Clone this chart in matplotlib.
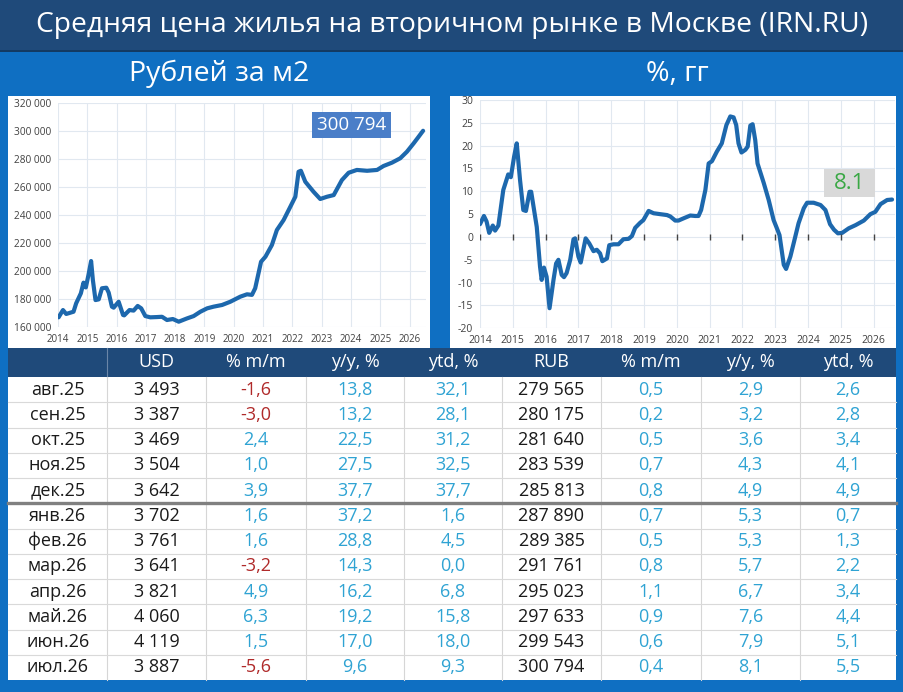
import matplotlib
matplotlib.use('Agg')
import matplotlib.pyplot as plt
from matplotlib.patches import Rectangle

plt.rcParams['font.family'] = ['Open Sans', 'DejaVu Sans']
plt.rcParams['axes.unicode_minus'] = False

# ---------------- texts ----------------
title = 'Средняя цена жилья на вторичном рынке в Москве (IRN.RU)'
sub_left = 'Рублей за м2'
sub_right = '%, гг'

# ---------------- chart data ----------------
price_t = [2014.02, 2014.17, 2014.28, 2014.53, 2014.62, 2014.78, 2014.87, 2014.95,
           2015.04, 2015.13, 2015.19, 2015.28, 2015.39, 2015.50, 2015.65, 2015.73,
           2015.84, 2015.90, 2016.07, 2016.22, 2016.26, 2016.44, 2016.58, 2016.72,
           2016.84, 2016.98, 2017.15, 2017.38, 2017.55, 2017.72, 2017.92, 2018.12,
           2018.40, 2018.63, 2018.86, 2019.09, 2019.31, 2019.60, 2019.88, 2020.22,
           2020.45, 2020.62, 2020.73, 2020.93, 2021.08, 2021.30, 2021.47, 2021.70,
           2021.93, 2022.10, 2022.21, 2022.29, 2022.44, 2022.72, 2022.95, 2023.18,
           2023.41, 2023.69, 2023.92, 2024.20, 2024.55, 2024.89, 2025.11, 2025.40,
           2025.68, 2025.91, 2026.14, 2026.31, 2026.46]
price_v = [167100, 172300, 169500, 171100, 177100, 184200, 191800, 188400,
           197300, 207200, 193700, 179400, 179900, 187800, 188200, 184700,
           174700, 174000, 178200, 168800, 168500, 172300, 171900, 175200,
           173500, 168000, 167100, 167300, 167500, 165200, 165900, 164000,
           166300, 168000, 171100, 173500, 174700, 175900, 178200, 181800,
           183500, 183100, 187800, 206700, 210300, 218600, 229300, 236400,
           245900, 253000, 270800, 271500, 263700, 256600, 251400, 253000,
           254200, 264900, 270100, 272100, 271500, 272100, 274900, 277300,
           280400, 285100, 291100, 295800, 300000]

yoy_t = [2014.00, 2014.12, 2014.20, 2014.28, 2014.39, 2014.46, 2014.56, 2014.71,
         2014.86, 2014.94, 2015.04, 2015.12, 2015.22, 2015.32, 2015.40, 2015.51,
         2015.56, 2015.73, 2015.83, 2015.88, 2015.95, 2016.03, 2016.12, 2016.24,
         2016.32, 2016.39, 2016.49, 2016.56, 2016.64, 2016.75, 2016.85, 2016.90,
         2017.00, 2017.07, 2017.22, 2017.33, 2017.46, 2017.56, 2017.66, 2017.73,
         2017.87, 2017.94, 2018.07, 2018.22, 2018.37, 2018.53, 2018.63, 2018.73,
         2018.88, 2018.98, 2019.14, 2019.29, 2019.49, 2019.70, 2019.80, 2019.95,
         2020.05, 2020.21, 2020.41, 2020.56, 2020.66, 2020.74, 2020.87, 2020.97,
         2021.07, 2021.22, 2021.37, 2021.51, 2021.63, 2021.73, 2021.81, 2021.88,
         2021.97, 2022.09, 2022.16, 2022.24, 2022.31, 2022.39, 2022.46, 2022.65,
         2022.80, 2022.95, 2023.05, 2023.13, 2023.26, 2023.33, 2023.46, 2023.56,
         2023.71, 2023.87, 2023.97, 2024.17, 2024.38, 2024.53, 2024.67, 2024.79,
         2024.91, 2025.04, 2025.24, 2025.45, 2025.70, 2025.90, 2026.05, 2026.21,
         2026.41, 2026.56]
yoy_v = [2.8, 4.6, 3.4, 0.9, 2.5, 1.4, 2.5, 10.3,
         13.7, 13.1, 17.6, 20.5, 12.5, 5.9, 5.7, 9.9,
         9.9, 2.2, -6.5, -9.4, -6.7, -8.7, -15.6, -9.4,
         -5.8, -5.0, -8.3, -8.8, -7.9, -5.0, -0.5, -0.3,
         -4.3, -5.6, -0.3, -1.4, -3.1, -2.8, -3.6, -5.3,
         -4.7, -1.8, -1.6, -1.6, -0.5, -0.4, 0.2, 2.0,
         3.1, 3.7, 5.7, 5.2, 5.0, 4.8, 4.5, 3.6,
         3.6, 4.1, 4.7, 4.6, 4.6, 5.9, 10.3, 16.1,
         16.6, 18.7, 20.5, 24.5, 26.4, 26.2, 24.5, 20.5,
         18.5, 19.1, 19.8, 24.4, 24.7, 21.2, 16.1, 11.8,
         8.1, 3.7, 1.9, 0.4, -6.1, -7.0, -4.3, -1.4,
         3.0, 6.3, 7.5, 7.5, 7.0, 5.9, 2.8, 1.6,
         0.8, 0.9, 1.9, 2.6, 3.6, 5.0, 5.5, 7.2,
         8.1, 8.2]

years = list(range(2014, 2027))
price_ticks = list(range(160000, 320001, 20000))
yoy_ticks = list(range(-20, 31, 5))

# ---------------- table data ----------------
headers = ['', 'USD', '% m/m', 'y/y, %', 'ytd, %', 'RUB', '% m/m', 'y/y, %', 'ytd, %']
months = ['авг.25', 'сен.25', 'окт.25', 'ноя.25', 'дек.25', 'янв.26',
          'фев.26', 'мар.26', 'апр.26', 'май.26', 'июн.26', 'июл.26']
usd = [3493, 3387, 3469, 3504, 3642, 3702, 3761, 3641, 3821, 4060, 4119, 3887]
usd_mm = [-1.6, -3.0, 2.4, 1.0, 3.9, 1.6, 1.6, -3.2, 4.9, 6.3, 1.5, -5.6]
usd_yy = [13.8, 13.2, 22.5, 27.5, 37.7, 37.2, 28.8, 14.3, 16.2, 19.2, 17.0, 9.6]
usd_ytd = [32.1, 28.1, 31.2, 32.5, 37.7, 1.6, 4.5, 0.0, 6.8, 15.8, 18.0, 9.3]
rub = [279565, 280175, 281640, 283539, 285813, 287890, 289385, 291761,
       295023, 297633, 299543, 300794]
rub_mm = [0.5, 0.2, 0.5, 0.7, 0.8, 0.7, 0.5, 0.8, 1.1, 0.9, 0.6, 0.4]
rub_yy = [2.9, 3.2, 3.6, 4.3, 4.9, 5.3, 5.3, 5.7, 6.7, 7.6, 7.9, 8.1]
rub_ytd = [2.6, 2.8, 3.4, 4.1, 4.9, 0.7, 1.3, 2.2, 3.4, 4.4, 5.1, 5.5]

# ---------------- styling ----------------
NAVY = '#1f4a7a'
BLUE = '#0f6fc2'
LINE = '#1d68ad'
GRID = '#e1e8f0'
TICK = '#404040'
POS = '#2fa3d3'
NEG = '#b02a2a'

W, H = 904, 692
fig = plt.figure(figsize=(W / 100, H / 100), dpi=100)
fig.patch.set_facecolor(BLUE)


def px_axes(l, t, r, b, **kw):
    return fig.add_axes([l / W, 1 - b / H, (r - l) / W, (b - t) / H], **kw)


def fmt_int(v):
    return f'{v:,}'.replace(',', ' ')


def fmt_pct(v):
    return f'{v:.1f}'.replace('.', ',')


# background canvas in pixel coordinates
bg = px_axes(0, 0, W, H)
bg.set_xlim(0, W)
bg.set_ylim(H, 0)
bg.axis('off')
bg.add_patch(Rectangle((0, 0), W, 50, fc=NAVY, ec='none'))
bg.plot([0, W], [50.5, 50.5], color='#14304f', lw=1.2)
bg.text(W / 2, 25, title, color='white', fontsize=20.3, ha='center', va='center')
bg.text(219, 74, sub_left, color='white', fontsize=20.5, ha='center', va='center')
bg.text(677, 74, sub_right, color='white', fontsize=20.5, ha='center', va='center')

# chart panels
bg.add_patch(Rectangle((8, 96), 422, 252, fc='white', ec='none'))
bg.add_patch(Rectangle((450, 96), 446.5, 252, fc='white', ec='none'))

# table
col_edges = [8.5, 107, 206, 306, 404, 502, 601, 701, 800, 896]
row_top, row_h = 377.0, 25.25
bg.add_patch(Rectangle((8.5, 348), 887.5, 29, fc=NAVY, ec='none'))
bg.add_patch(Rectangle((8.5, row_top), 887.5, 680 - row_top, fc='white', ec='none'))
for i, hname in enumerate(headers):
    cx = (col_edges[i] + col_edges[i + 1]) / 2
    bg.text(cx, 362, hname, color='white', fontsize=13, ha='center', va='center')
bg.plot([col_edges[1]] * 2, [348, 377], color='#6a86a8', lw=0.8)
for x in col_edges[1:-1]:
    bg.plot([x, x], [row_top, row_top + 12 * row_h], color='#d6d6d6', lw=0.8)
for r in range(1, 12):
    y = row_top + r * row_h
    if r == 5:
        bg.plot([8.5, 896], [y, y], color='#808080', lw=2.4)
    else:
        bg.plot([8.5, 896], [y, y], color='#d9d9d9', lw=0.8)

columns = [months, usd, usd_mm, usd_yy, usd_ytd, rub, rub_mm, rub_yy, rub_ytd]
for r in range(12):
    cy = row_top + (r + 0.5) * row_h
    for c, col in enumerate(columns):
        v = col[r]
        cx = (col_edges[c] + col_edges[c + 1]) / 2
        if c == 0:
            s, colr = v, '#1a1a1a'
        elif c in (1, 5):
            s, colr = fmt_int(v), '#1a1a1a'
        else:
            s, colr = fmt_pct(v), (NEG if v < 0 else POS)
        bg.text(cx, cy, s, color=colr, fontsize=13, ha='center', va='center')

# ---------------- left chart ----------------
ax1 = px_axes(58, 102.7, 426, 327.3)
ax1.set_facecolor('white')
ax1.plot(price_t, price_v, color=LINE, lw=3, solid_joinstyle='round', solid_capstyle='round')
ax1.set_xlim(2014, 2026.56)
ax1.set_ylim(160000, 320000)
ax1.set_xticks(years)
ax1.set_xticklabels([str(y) for y in years], fontsize=7, color=TICK)
ax1.set_yticks(price_ticks)
ax1.set_yticklabels([fmt_int(v) for v in price_ticks], fontsize=7.3, color=TICK)
ax1.tick_params(length=0, pad=5)
ax1.grid(True, color=GRID, lw=0.8)
ax1.set_axisbelow(True)
for s in ax1.spines.values():
    s.set_visible(False)
ax1.add_patch(Rectangle((0.690, 0.843), 0.215, 0.116, transform=ax1.transAxes,
                        fc='#4a7ec8', ec='none', zorder=5))
ax1.text(0.797, 0.901, fmt_int(rub[-1]), transform=ax1.transAxes, color='white',
         fontsize=13.5, ha='center', va='center', zorder=6)

# ---------------- right chart ----------------
ax2 = px_axes(480, 100, 895, 328.3)
ax2.set_facecolor('white')
ax2.plot(yoy_t, yoy_v, color=LINE, lw=3, solid_joinstyle='round', solid_capstyle='round')
ax2.plot(years, [0] * len(years), ls='none', marker='|', ms=4, mew=1, color='#444444')
ax2.set_xlim(2014, 2026.65)
ax2.set_ylim(-20, 30)
ax2.set_xticks(years)
ax2.set_xticklabels([str(y) for y in years], fontsize=7.5, color=TICK)
ax2.set_yticks(yoy_ticks)
ax2.set_yticklabels([str(v) for v in yoy_ticks], fontsize=7.5, color=TICK)
ax2.tick_params(length=0, pad=5)
ax2.grid(True, color=GRID, lw=0.8)
ax2.set_axisbelow(True)
for s in ax2.spines.values():
    s.set_visible(False)
ax2.add_patch(Rectangle((0.829, 0.575), 0.123, 0.123, transform=ax2.transAxes,
                        fc='#d9d9d9', ec='none', zorder=5))
ax2.text(0.89, 0.636, f'{rub_yy[-1]:.1f}', transform=ax2.transAxes, color='#3aa845',
         fontsize=16, ha='center', va='center', zorder=6)

fig.savefig('out.png', dpi=100, facecolor=fig.get_facecolor())
